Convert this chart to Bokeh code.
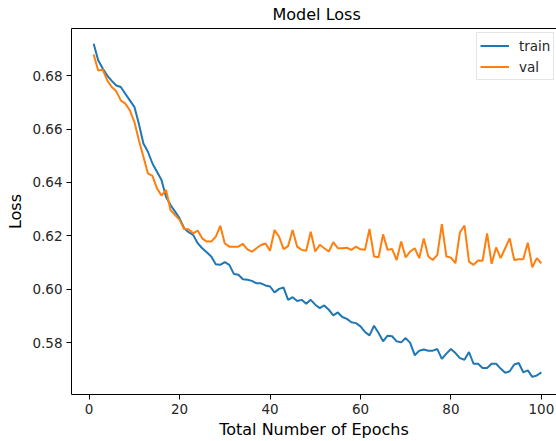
from bokeh.plotting import figure
from bokeh.models import LinearAxis, FixedTicker, Legend, LegendItem, Range1d
from bokeh.embed import file_html
from bokeh.resources import INLINE

epochs = list(range(1, 101))
train_loss = [
    0.6919, 0.6857, 0.6826, 0.6800, 0.6780, 0.6763, 0.6757, 0.6732, 0.6707, 0.6683,
    0.6620, 0.6546, 0.6515, 0.6471, 0.6440, 0.6409, 0.6347, 0.6316, 0.6291, 0.6266,
    0.6229, 0.6214, 0.6204, 0.6173, 0.6154, 0.6139, 0.6123, 0.6094, 0.6092, 0.6102,
    0.6092, 0.6058, 0.6055, 0.6038, 0.6036, 0.6032, 0.6023, 0.6023, 0.6015, 0.6011,
    0.5989, 0.6002, 0.6007, 0.5961, 0.5971, 0.5957, 0.5961, 0.5946, 0.5961, 0.5943,
    0.5930, 0.5940, 0.5924, 0.5903, 0.5914, 0.5897, 0.5890, 0.5877, 0.5874, 0.5862,
    0.5841, 0.5828, 0.5864, 0.5837, 0.5806, 0.5827, 0.5825, 0.5806, 0.5802, 0.5818,
    0.5800, 0.5754, 0.5771, 0.5775, 0.5771, 0.5771, 0.5777, 0.5740, 0.5760, 0.5777,
    0.5762, 0.5743, 0.5737, 0.5766, 0.5722, 0.5722, 0.5706, 0.5706, 0.5722, 0.5722,
    0.5704, 0.5688, 0.5694, 0.5719, 0.5725, 0.5690, 0.5697, 0.5673, 0.5678, 0.5690,
]
val_loss = [
    0.6879, 0.6819, 0.6822, 0.6782, 0.6757, 0.6741, 0.6707, 0.6695, 0.6670, 0.6627,
    0.6558, 0.6496, 0.6434, 0.6425, 0.6378, 0.6351, 0.6372, 0.6297, 0.6278, 0.6260,
    0.6226, 0.6225, 0.6210, 0.6220, 0.6191, 0.6179, 0.6179, 0.6197, 0.6238, 0.6172,
    0.6160, 0.6160, 0.6160, 0.6170, 0.6150, 0.6141, 0.6154, 0.6166, 0.6172, 0.6145,
    0.6222, 0.6197, 0.6151, 0.6162, 0.6222, 0.6160, 0.6148, 0.6145, 0.6216, 0.6142,
    0.6167, 0.6154, 0.6142, 0.6177, 0.6154, 0.6154, 0.6156, 0.6148, 0.6160, 0.6150,
    0.6148, 0.6226, 0.6123, 0.6120, 0.6206, 0.6148, 0.6151, 0.6110, 0.6179, 0.6120,
    0.6142, 0.6154, 0.6117, 0.6191, 0.6123, 0.6110, 0.6129, 0.6244, 0.6123, 0.6119,
    0.6098, 0.6214, 0.6239, 0.6104, 0.6092, 0.6108, 0.6107, 0.6210, 0.6096, 0.6157,
    0.6117, 0.6154, 0.6191, 0.6110, 0.6113, 0.6113, 0.6175, 0.6083, 0.6117, 0.6098,
]
x_ticks = [0, 20, 40, 60, 80, 100]
y_ticks = [0.58, 0.60, 0.62, 0.64, 0.66, 0.68]
series_names = ["train", "val"]
colors = ["#1f77b4", "#ff7f0e"]

FONT = "DejaVu Sans"
TXT = "#262626"

p = figure(width=556, height=441, output_backend="svg", toolbar_location=None,
           x_range=Range1d(-3.9, 103.35), y_range=Range1d(0.5607, 0.6976),
           min_border_left=71, min_border_right=0, min_border_top=28,
           min_border_bottom=46)
p.outline_line_color = None
p.grid.visible = False
p.background_fill_color = "white"
p.border_fill_color = "white"

p.title.text = "Model Loss"
p.title.text_font = FONT
p.title.text_font_size = "16px"
p.title.text_font_style = "normal"
p.title.text_color = "black"
p.title.align = "left"
p.title.offset = 201
p.title.standoff = 7
p.title.vertical_align = "middle"

for ax in (p.xaxis[0], p.yaxis[0]):
    ax.axis_line_color = "black"
    ax.axis_line_width = 1
    ax.major_tick_line_color = "black"
    ax.major_tick_out = 5
    ax.major_tick_in = 0
    ax.minor_tick_line_color = None
    ax.major_label_text_font = FONT
    ax.major_label_text_font_size = "13.5px"
    ax.major_label_text_color = TXT
    ax.axis_label_text_font = FONT
    ax.axis_label_text_font_size = "16px"
    ax.axis_label_text_font_style = "normal"
    ax.axis_label_text_color = "black"
    ax.major_label_standoff = 4

p.xaxis[0].ticker = FixedTicker(ticks=x_ticks)
p.yaxis[0].ticker = FixedTicker(ticks=y_ticks)
p.yaxis[0].major_label_overrides = {t: f"{t:.2f}" for t in y_ticks}
p.xaxis[0].axis_label = "Total Number of Epochs"
p.yaxis[0].axis_label = "Loss"
p.xaxis[0].axis_label_standoff = 3
p.yaxis[0].axis_label_standoff = 4

top = LinearAxis(ticker=FixedTicker(ticks=[]), axis_line_color="black",
                 major_tick_line_color=None, minor_tick_line_color=None,
                 major_label_standoff=0, axis_label_standoff=0)
p.add_layout(top, "above")

r_train = p.line(epochs, train_loss, line_color=colors[0], line_width=2)
r_val = p.line(epochs, val_loss, line_color=colors[1], line_width=2)

legend = Legend(items=[LegendItem(label=series_names[0], renderers=[r_train]),
                       LegendItem(label=series_names[1], renderers=[r_val])],
                location=(405, 314))
legend.margin = 0
legend.padding = 3
legend.spacing = 2
legend.glyph_width = 29
legend.glyph_height = 19
legend.label_height = 19
legend.label_standoff = 10
legend.label_text_font = FONT
legend.label_text_font_size = "13.5px"
legend.label_text_color = TXT
legend.border_line_color = "#cccccc"
legend.border_line_width = 1
legend.background_fill_alpha = 0.8
p.add_layout(legend)

open("out.html", "w").write(file_html(p, INLINE))
